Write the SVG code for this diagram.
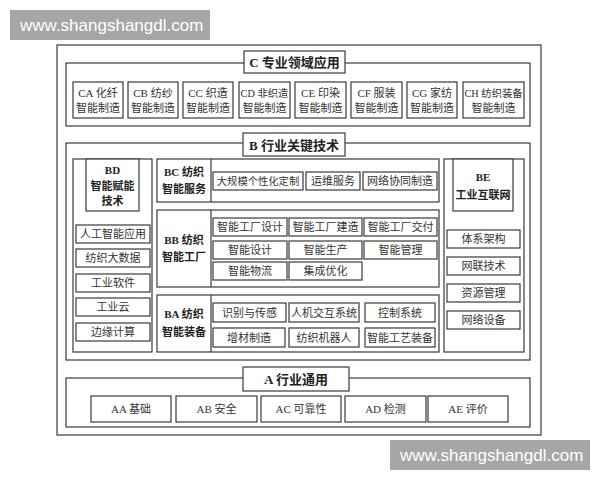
<svg xmlns="http://www.w3.org/2000/svg" width="600" height="480" viewBox="0 0 600 480">
<style>
.f{fill:#fff;stroke:#3a3a3a;stroke-width:1.2}
.t{font-family:"Liberation Serif","Noto Sans CJK SC",serif;font-size:11px;fill:#333;text-anchor:middle}
.s{font-size:10.3px}
.b{font-family:"Liberation Serif","Noto Sans CJK SC",serif;font-size:11px;fill:#222;text-anchor:middle;font-weight:bold}
.h{font-family:"Liberation Serif","Noto Sans CJK SC",serif;font-size:13px;fill:#222;text-anchor:middle;font-weight:bold}
.wm{fill:#a6a6a6}
.wt{font-family:"Liberation Sans",Arial,sans-serif;font-size:17px;fill:#fff}
</style>
<rect width="600" height="480" fill="#fff"/>
<g id="frame"><rect class="f" x="57" y="45" width="484" height="390"/></g>

<g id="C">
<rect class="f" x="66" y="63" width="464" height="63"/>
<rect class="f" x="244" y="51" width="101" height="22"/>
<text class="h" x="294.5" y="67">C 专业领域应用</text>
</g>
<g id="CA"><rect class="f" x="73" y="82" width="50" height="36"/><text class="t" x="98" y="97">CA 化纤</text><text class="t" x="98" y="112">智能制造</text></g>
<g id="CB"><rect class="f" x="128" y="82" width="50" height="36"/><text class="t" x="153" y="97">CB 纺纱</text><text class="t" x="153" y="112">智能制造</text></g>
<g id="CC"><rect class="f" x="183" y="82" width="50" height="36"/><text class="t" x="208" y="97">CC 织造</text><text class="t" x="208" y="112">智能制造</text></g>
<g id="CD"><rect class="f" x="239" y="82" width="51" height="36"/><text class="t s" x="264.5" y="97">CD 非织造</text><text class="t" x="264.5" y="112">智能制造</text></g>
<g id="CE"><rect class="f" x="295" y="82" width="51" height="36"/><text class="t" x="320.5" y="97">CE 印染</text><text class="t" x="320.5" y="112">智能制造</text></g>
<g id="CF"><rect class="f" x="351" y="82" width="51" height="36"/><text class="t" x="376.5" y="97">CF 服装</text><text class="t" x="376.5" y="112">智能制造</text></g>
<g id="CG"><rect class="f" x="407" y="82" width="50" height="36"/><text class="t" x="432" y="97">CG 家纺</text><text class="t" x="432" y="112">智能制造</text></g>
<g id="CH"><rect class="f" x="463" y="82" width="61" height="36"/><text class="t s" x="493.5" y="97">CH 纺织装备</text><text class="t" x="493.5" y="112">智能制造</text></g>

<g id="B">
<rect class="f" x="66" y="143" width="464" height="217"/>
<rect class="f" x="243" y="133" width="102" height="23"/>
<text class="h" x="294" y="149.5">B 行业关键技术</text>
</g>

<g id="BD">
<rect class="f" x="73" y="159" width="79" height="193"/>
<rect class="f" x="86" y="159" width="53" height="52"/>
<text class="b" x="112.5" y="174">BD</text>
<text class="b" x="112.5" y="190">智能赋能</text>
<text class="b" x="112.5" y="205">技术</text>
</g>
<g id="BD1"><rect class="f" x="76" y="225" width="74" height="18"/><text class="t" x="113" y="238">人工智能应用</text></g>
<g id="BD2"><rect class="f" x="76" y="249" width="74" height="18"/><text class="t" x="113" y="262">纺织大数据</text></g>
<g id="BD3"><rect class="f" x="76" y="274" width="74" height="18"/><text class="t" x="113" y="287">工业软件</text></g>
<g id="BD4"><rect class="f" x="76" y="298" width="74" height="18"/><text class="t" x="113" y="311">工业云</text></g>
<g id="BD5"><rect class="f" x="76" y="323" width="74" height="18"/><text class="t" x="113" y="336">边缘计算</text></g>

<g id="BC">
<rect class="f" x="157" y="159" width="282" height="43"/>
<line x1="211" y1="159" x2="211" y2="202" stroke="#3a3a3a" stroke-width="1.2"/>
<text class="b" x="184" y="176">BC 纺织</text>
<text class="b" x="184" y="193">智能服务</text>
</g>
<g id="BC1"><rect class="f" x="213" y="172" width="90" height="18"/><text class="t s" x="258" y="185">大规模个性化定制</text></g>
<g id="BC2"><rect class="f" x="306" y="172" width="54" height="18"/><text class="t" x="333" y="185">运维服务</text></g>
<g id="BC3"><rect class="f" x="363" y="172" width="74" height="18"/><text class="t" x="400" y="185">网络协同制造</text></g>

<g id="BB">
<rect class="f" x="157" y="210" width="282" height="77"/>
<line x1="211" y1="210" x2="211" y2="287" stroke="#3a3a3a" stroke-width="1.2"/>
<text class="b" x="184" y="244">BB 纺织</text>
<text class="b" x="184" y="261">智能工厂</text>
</g>
<g id="BB1"><rect class="f" x="213" y="218" width="74" height="18"/><text class="t" x="250" y="231">智能工厂设计</text></g>
<g id="BB2"><rect class="f" x="289" y="218" width="73" height="18"/><text class="t" x="325.5" y="231">智能工厂建造</text></g>
<g id="BB3"><rect class="f" x="364" y="218" width="73" height="18"/><text class="t" x="400.5" y="231">智能工厂交付</text></g>
<g id="BB4"><rect class="f" x="213" y="241" width="74" height="18"/><text class="t" x="250" y="254">智能设计</text></g>
<g id="BB5"><rect class="f" x="289" y="241" width="73" height="18"/><text class="t" x="325.5" y="254">智能生产</text></g>
<g id="BB6"><rect class="f" x="364" y="241" width="73" height="18"/><text class="t" x="400.5" y="254">智能管理</text></g>
<g id="BB7"><rect class="f" x="213" y="262" width="74" height="18"/><text class="t" x="250" y="275">智能物流</text></g>
<g id="BB8"><rect class="f" x="289" y="262" width="73" height="18"/><text class="t" x="325.5" y="275">集成优化</text></g>

<g id="BA">
<rect class="f" x="157" y="295" width="282" height="57"/>
<line x1="211" y1="295" x2="211" y2="352" stroke="#3a3a3a" stroke-width="1.2"/>
<text class="b" x="184" y="318">BA 纺织</text>
<text class="b" x="184" y="336">智能装备</text>
</g>
<g id="BA1"><rect class="f" x="213" y="303" width="73" height="19"/><text class="t" x="249.5" y="316.5">识别与传感</text></g>
<g id="BA2"><rect class="f" x="289" y="303" width="70" height="19"/><text class="t" x="324" y="316.5">人机交互系统</text></g>
<g id="BA3"><rect class="f" x="365" y="303" width="70" height="19"/><text class="t" x="400" y="316.5">控制系统</text></g>
<g id="BA4"><rect class="f" x="213" y="328" width="72" height="19"/><text class="t" x="249" y="341.5">增材制造</text></g>
<g id="BA5"><rect class="f" x="289" y="328" width="70" height="19"/><text class="t" x="324" y="341.5">纺织机器人</text></g>
<g id="BA6"><rect class="f" x="365" y="328" width="70" height="19"/><text class="t" x="400" y="341.5">智能工艺装备</text></g>

<g id="BE">
<rect class="f" x="444" y="159" width="80" height="193"/>
<rect class="f" x="453" y="159" width="60" height="52"/>
<text class="b" x="483" y="181">BE</text>
<text class="b" x="483" y="199">工业互联网</text>
</g>
<g id="BE1"><rect class="f" x="447" y="230" width="73" height="18"/><text class="t" x="483.5" y="243">体系架构</text></g>
<g id="BE2"><rect class="f" x="447" y="257" width="73" height="18"/><text class="t" x="483.5" y="270">网联技术</text></g>
<g id="BE3"><rect class="f" x="447" y="284" width="73" height="18"/><text class="t" x="483.5" y="297">资源管理</text></g>
<g id="BE4"><rect class="f" x="447" y="311" width="73" height="18"/><text class="t" x="483.5" y="324">网络设备</text></g>

<g id="A">
<rect class="f" x="66" y="378" width="464" height="49"/>
<rect class="f" x="243" y="367" width="106" height="24"/>
<text class="h" x="296" y="384">A 行业通用</text>
</g>
<g id="AA"><rect class="f" x="91" y="396" width="80" height="26"/><text class="t" x="131" y="413">AA 基础</text></g>
<g id="AB"><rect class="f" x="176" y="396" width="81" height="26"/><text class="t" x="216.5" y="413">AB 安全</text></g>
<g id="AC"><rect class="f" x="261" y="396" width="80" height="26"/><text class="t" x="301" y="413">AC 可靠性</text></g>
<g id="AD"><rect class="f" x="345" y="396" width="81" height="26"/><text class="t" x="385.5" y="413">AD 检测</text></g>
<g id="AE"><rect class="f" x="428" y="396" width="80" height="26"/><text class="t" x="468" y="413">AE 评价</text></g>

<g id="connectors"></g>

<g id="watermarks">
<rect class="wm" x="10" y="10" width="200" height="30"/>
<text class="wt" x="20" y="31">www.shangshangdl.com</text>
<rect class="wm" x="390" y="440" width="200" height="30"/>
<text class="wt" x="400" y="461">www.shangshangdl.com</text>
</g>
</svg>
